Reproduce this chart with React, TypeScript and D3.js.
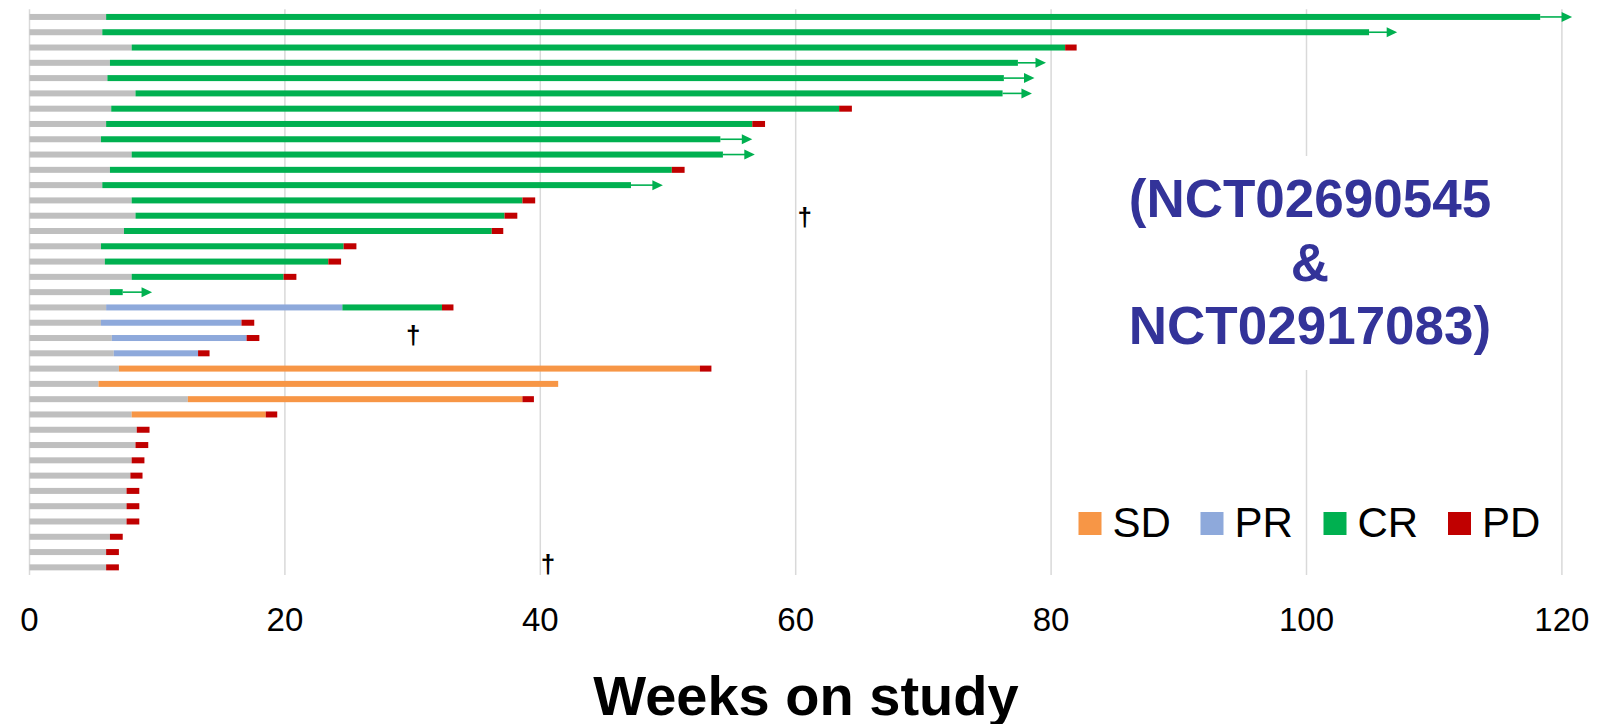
import React from "react";
import * as d3 from "d3";

// ---- data (weeks on study) ----
const patients = d3.range(1, 38);
const screenEnd = [6.0, 5.7, 8.0, 6.3, 6.1, 8.3, 6.4, 6.0, 5.6, 8.0, 6.3, 5.7, 8.0, 8.3, 7.4, 5.6, 5.9, 8.0, 6.3, 6.0, 5.6, 6.45, 6.6, 7.0, 5.4, 12.4, 8.0, 8.4, 8.3, 8.0, 7.9, 7.6, 7.6, 7.6, 6.3, 6.0, 6.0];
const sdEnd: (number | null)[] = [null, null, null, null, null, null, null, null, null, null, null, null, null, null, null, null, null, null, null, null, null, null, null, 52.5, 41.4, 38.6, 18.5, null, null, null, null, null, null, null, null, null, null];
const prEnd: (number | null)[] = [null, null, null, null, null, null, null, null, null, null, null, null, null, null, null, null, null, null, null, 24.5, 16.6, 17.0, 13.2, null, null, null, null, null, null, null, null, null, null, null, null, null, null];
const crEnd: (number | null)[] = [118.3, 104.9, 81.1, 77.4, 76.3, 76.2, 63.4, 56.6, 54.1, 54.3, 50.3, 47.1, 38.6, 37.2, 36.2, 24.6, 23.4, 19.9, 7.3, 32.3, null, null, null, null, null, null, null, null, null, null, null, null, null, null, null, null, null];
const pdEnd: (number | null)[] = [null, null, 82.0, null, null, null, 64.4, 57.6, null, null, 51.3, null, 39.6, 38.2, 37.1, 25.6, 24.4, 20.9, null, 33.2, 17.6, 18.0, 14.1, 53.4, null, 39.5, 19.4, 9.4, 9.3, 9.0, 8.85, 8.6, 8.6, 8.6, 7.3, 7.0, 7.0];
const arrowEnd: (number | null)[] = [120.8, 107.1, null, 79.6, 78.7, 78.5, null, null, 56.6, 56.8, null, 49.6, null, null, null, null, null, null, 9.6, null, null, null, null, null, null, null, null, null, null, null, null, null, null, null, null, null, null];
const daggerRow = [13.2, 20.9, 35.9];
const daggerWeek = [60.7, 30.05, 40.6];
const xTicks = [0, 20, 40, 60, 80, 100, 120];
const legendLabels = ["SD", "PR", "CR", "PD"];
const annotationLines = ["(NCT02690545", "&", "NCT02917083)"];

const colors: Record<string, string> = {
  screen: "#BFBFBF",
  SD: "#F79646",
  PR: "#8EA9DB",
  CR: "#00B050",
  PD: "#C00000",
};

const FONT = "'Liberation Sans', Arial, Helvetica, sans-serif";

export default function App() {
  const W = 1606;
  const H = 724;
  const x = d3.scaleLinear().domain([0, 120]).range([29.5, 1561.9]);
  const y = d3.scaleBand<number>().domain(d3.range(patients.length)).range([9.3, 575]);
  const yc = (i: number) => (y(i) as number) + y.bandwidth() / 2;
  const barH = 6;

  const segs: { x0: number; x1: number; c: string; i: number }[] = [];
  patients.forEach((_, i) => {
    let start = 0;
    const phases: [string, number | null][] = [
      ["screen", screenEnd[i]],
      ["SD", sdEnd[i]],
      ["PR", prEnd[i]],
      ["CR", crEnd[i]],
      ["PD", pdEnd[i]],
    ];
    phases.forEach(([k, e]) => {
      if (e != null) {
        segs.push({ x0: start, x1: e, c: colors[k], i });
        start = e;
      }
    });
  });

  const arrows = patients
    .map((_, i) => ({ i, from: crEnd[i], to: arrowEnd[i] }))
    .filter((a) => a.to != null && a.from != null) as { i: number; from: number; to: number }[];

  const rowY = (r: number) => (y(0) as number) + y.bandwidth() / 2 + r * y.step();

  const legendX = [1078.5, 1200.5, 1323.5, 1448];

  return (
    <svg
      width={W}
      height={H}
      style={{ position: "absolute", left: 0, top: 0, background: "#fff" }}
      fontFamily={FONT}
    >
      <rect x={0} y={0} width={W} height={H} fill="#fff" />
      {/* gridlines */}
      {xTicks.map((t) => (
        <line key={"g" + t} x1={x(t)} x2={x(t)} y1={9.3} y2={575} stroke="#D9D9D9" strokeWidth={1.5} />
      ))}
      {/* annotation backing */}
      <rect x={1118} y={156} width={385} height={214} fill="#fff" />
      {/* bars */}
      {segs.map((s, k) => (
        <rect key={"s" + k} x={x(s.x0)} y={yc(s.i) - barH / 2} width={x(s.x1) - x(s.x0)} height={barH} fill={s.c} />
      ))}
      {/* ongoing arrows */}
      {arrows.map((a) => {
        const tip = x(a.to);
        const cy = yc(a.i);
        return (
          <g key={"a" + a.i}>
            <line x1={x(a.from)} x2={tip - 9} y1={cy} y2={cy} stroke={colors.CR} strokeWidth={1.6} />
            <path d={`M${tip - 10.5},${cy - 5}L${tip},${cy}L${tip - 10.5},${cy + 5}Z`} fill={colors.CR} />
          </g>
        );
      })}
      {/* daggers */}
      {daggerRow.map((r, k) => (
        <text key={"d" + k} x={x(daggerWeek[k])} y={rowY(r) + 7.5} textAnchor="middle" fontSize={26} fontWeight="bold" fill="#000">
          †
        </text>
      ))}
      {/* annotation */}
      {annotationLines.map((l, k) => (
        <text key={"t" + k} x={1310} y={216.7 + k * 63.8} textAnchor="middle" fontSize={53} fontWeight="bold" fill="#333399">
          {l}
        </text>
      ))}
      {/* legend */}
      {legendLabels.map((l, k) => (
        <g key={"l" + k}>
          <rect x={legendX[k]} y={512} width={23} height={23} fill={colors[l]} />
          <text x={legendX[k] + 34} y={537} fontSize={42} fill="#000">
            {l}
          </text>
        </g>
      ))}
      {/* x tick labels */}
      {xTicks.map((t) => (
        <text key={"x" + t} x={x(t)} y={630.7} textAnchor="middle" fontSize={33} fill="#000">
          {t}
        </text>
      ))}
      <text x={806} y={715} textAnchor="middle" fontSize={56} fontWeight="bold" fill="#000">
        Weeks on study
      </text>
    </svg>
  );
}
